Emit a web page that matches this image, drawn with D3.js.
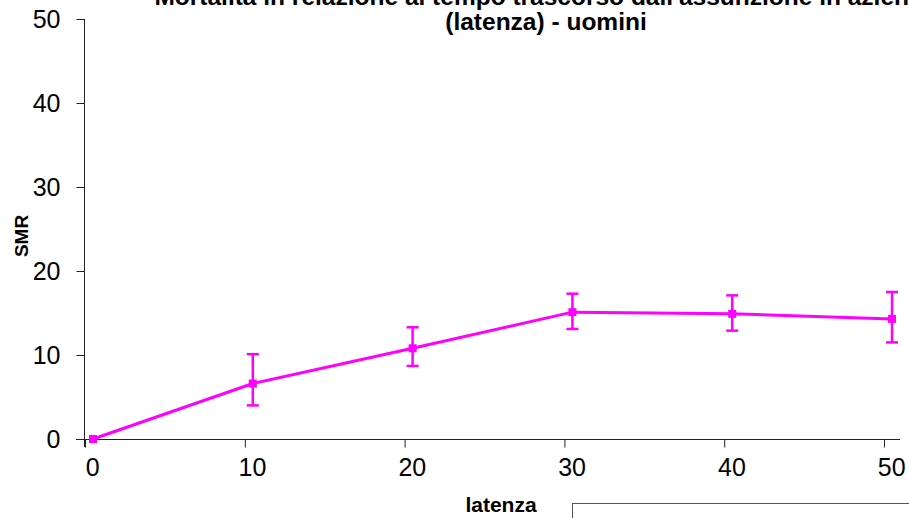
<!DOCTYPE html>
<html>
<head>
<meta charset="utf-8">
<script src="https://cdn.jsdelivr.net/npm/d3@7"></script>
<style>
  body { margin: 0; background: #fff; }
  svg { display: block; font-family: "Liberation Sans", Arial, sans-serif; }
</style>
</head>
<body>
<svg id="chart"></svg>
<script>
/* data */
var latenza = [0.5, 10.5, 20.5, 30.5, 40.5, 50.5];
var smr     = [0, 6.6, 10.8, 15.1, 14.9, 14.3];
var smrLow  = [null, 4.0, 8.7, 13.1, 12.9, 11.5];
var smrHigh = [null, 10.1, 13.3, 17.3, 17.1, 17.5];
var xTicks  = [0, 10, 20, 30, 40, 50];
var yTicks  = [0, 10, 20, 30, 40, 50];
var titleLines = ["Mortalità in relazione al tempo trascorso dall'assunzione in azienda", "(latenza) - uomini"];

var W = 909, H = 518;
var magenta = "#ff00ff";

/* main svg */
var svg = d3.select('#chart')
    .attr('width', W)
    .attr('height', H);

var x = d3.scaleLinear().domain([0, 51]).range([85, 900]);
var y = d3.scaleLinear().domain([0, 50]).range([439, 19]);

/* axes */
var yAxis = svg.append('g')
    .attr('transform', `translate(${x(0) - 0.5},0)`)
    .call(d3.axisLeft(y).tickValues(yTicks).tickSize(8).tickPadding(16).tickSizeOuter(0));

var xAxis = svg.append('g')
    .attr('transform', `translate(0,${y(0) + 0.5})`)
    .call(d3.axisBottom(x).tickValues(xTicks).tickSize(8).tickPadding(11).tickSizeOuter(0));

[xAxis, yAxis].forEach(function(a){
    a.select('.domain').remove();
    a.selectAll('line').attr('stroke', '#222');
    a.selectAll('text').attr('fill', '#000').attr('font-size', '25px').attr('font-family', '"Liberation Sans", Arial, sans-serif');
});

// x labels sit under the points, half a unit right of their tick
xAxis.selectAll('text').attr('dx', x(0.45) - x(0));

// axis lines drawn by hand so the x line runs under the y tick at 0
svg.append('line')
    .attr('x1', x(0) - 0.5).attr('x2', x(0) - 0.5)
    .attr('y1', y(50)).attr('y2', y(0) + 8)
    .attr('stroke', '#222');
svg.append('line')
    .attr('x1', x(0) - 9).attr('x2', x(51))
    .attr('y1', y(0) + 0.5).attr('y2', y(0) + 0.5)
    .attr('stroke', '#222');

/* line */
var pts = latenza.map((d, i) => ({x: d, y: smr[i], lo: smrLow[i], hi: smrHigh[i]}));

svg.append('path')
    .datum(pts)
    .attr('fill', 'none')
    .attr('stroke', magenta)
    .attr('stroke-width', 3)
    .attr('d', d3.line().x(d => x(d.x)).y(d => y(d.y)));

/* error bars */
var eb = svg.append('g').selectAll('g.err')
    .data(pts.filter(d => d.lo !== null))
    .enter()
    .append('g')
    .attr('class', 'err')
    .attr('stroke', magenta)
    .attr('stroke-width', 2.5);

eb.append('line')
    .attr('x1', d => x(d.x)).attr('x2', d => x(d.x))
    .attr('y1', d => y(d.lo)).attr('y2', d => y(d.hi));
eb.append('line')
    .attr('x1', d => x(d.x) - 6).attr('x2', d => x(d.x) + 6)
    .attr('y1', d => y(d.lo)).attr('y2', d => y(d.lo));
eb.append('line')
    .attr('x1', d => x(d.x) - 6).attr('x2', d => x(d.x) + 6)
    .attr('y1', d => y(d.hi)).attr('y2', d => y(d.hi));

/* markers */
svg.append('g').selectAll('rect')
    .data(pts)
    .enter()
    .append('rect')
    .attr('x', d => x(d.x) - 4)
    .attr('y', d => y(d.y) - 4)
    .attr('width', 8)
    .attr('height', 8)
    .attr('fill', magenta);

/* title (first line is cut by the top edge, as in the original) */
svg.append('text')
    .attr('text-anchor', 'middle')
    .attr('font-weight', 'bold')
    .attr('font-size', '24.5px')
    .selectAll('tspan')
    .data(titleLines)
    .enter()
    .append('tspan')
    .attr('x', 546)
    .attr('y', (d, i) => 5 + i * 24.5)
    .text(d => d);

/* axis titles */
svg.append('text')
    .attr('x', 501).attr('y', 512)
    .attr('text-anchor', 'middle')
    .attr('font-weight', 'bold')
    .attr('font-size', '21px')
    .text('latenza');

svg.append('text')
    .attr('transform', 'translate(28,236) rotate(-90)')
    .attr('text-anchor', 'middle')
    .attr('font-weight', 'bold')
    .attr('font-size', '19px')
    .text('SMR');

/* legend box, cut by the page edge */
svg.append('rect')
    .attr('x', 572.5).attr('y', 503.5)
    .attr('width', 400).attr('height', 60)
    .attr('fill', '#fff')
    .attr('stroke', '#555');
</script>
</body>
</html>
